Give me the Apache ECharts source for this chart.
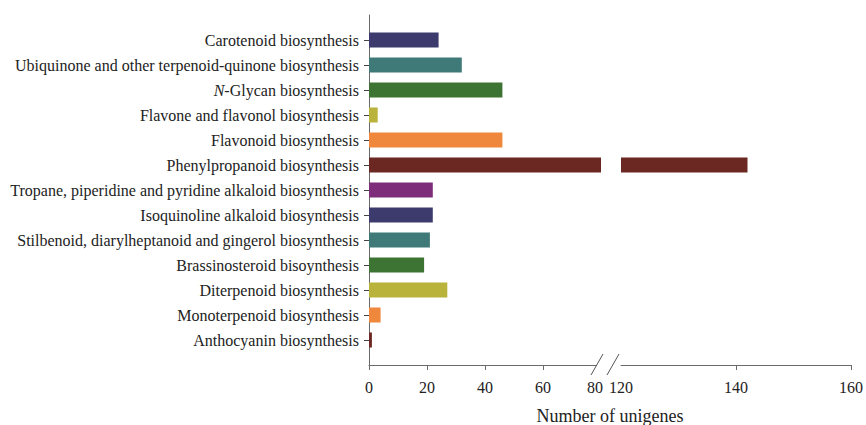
<!DOCTYPE html>
<html>
<head>
<meta charset="utf-8">
<script src="https://cdn.jsdelivr.net/npm/echarts@6/dist/echarts.min.js"></script>
<style>
  html, body { margin: 0; padding: 0; background: #fff; }
  #chart { width: 866px; height: 425px; }
</style>
</head>
<body>
<div id="chart"></div>
<script>
// pathways, top to bottom
const pathways = [
  "Carotenoid biosynthesis",
  "Ubiquinone and other terpenoid-quinone biosynthesis",
  "N-Glycan biosynthesis",
  "Flavone and flavonol biosynthesis",
  "Flavonoid biosynthesis",
  "Phenylpropanoid biosynthesis",
  "Tropane, piperidine and pyridine alkaloid biosynthesis",
  "Isoquinoline alkaloid biosynthesis",
  "Stilbenoid, diarylheptanoid and gingerol biosynthesis",
  "Brassinosteroid bisoynthesis",
  "Diterpenoid biosynthesis",
  "Monoterpenoid biosynthesis",
  "Anthocyanin biosynthesis",
];
const unigenes = [24, 32, 46, 3, 46, 142, 22, 22, 21, 19, 27, 4, 1];
const barColors = [
  "#3d3b6d", "#3f7a78", "#3e7433", "#b9b33b", "#ef873d", "#6b2722", "#7d2d79",
  "#3d3b6d", "#3f7a78", "#3e7433", "#b9b33b", "#ef873d", "#6b2722",
];
const lowTicks = [0, 20, 40, 60, 80];
const highTicks = [120, 140, 160];

const SERIF = "'Liberation Serif', 'Times New Roman', serif";
const chart = echarts.init(document.getElementById("chart"), null, { renderer: "svg" });

// blank slot at each end so the y axis line runs past the first and last bar
const cats = ["", ...pathways, ""];
const pad = (arr) => [null, ...arr, null];
const isReal = (i) => i > 0 && i < cats.length - 1;

const barData = (minShown) => pad(unigenes.map((v, i) => (v > minShown ? {
  value: v,
  itemStyle: { color: barColors[i] },
} : null)));

const axisLineStyle = { show: true, lineStyle: { color: "#6a6a6a", width: 1 } };
const xTick = { show: true, length: 5, lineStyle: { color: "#6a6a6a" } };

const grids = [
  { left: 369, right: 265, top: 15, bottom: 60 },
  { left: 621, right: 13, top: 15, bottom: 60 },
];

const option = {
  animation: false,
  backgroundColor: "#fff",
  grid: grids,
  yAxis: [
    {
      type: "category",
      gridIndex: 0,
      data: cats,
      inverse: true,
      boundaryGap: false,
      axisLine: axisLineStyle,
      axisTick: { show: true, length: 5, interval: (i) => isReal(i), lineStyle: { color: "#444" } },
      axisLabel: {
        interval: (i) => isReal(i),
        margin: 10,
        fontFamily: SERIF,
        fontSize: 16,
        color: "#222",
        formatter: (v) => (v.startsWith("N-") ? "{i|N}-" + v.slice(2) : v),
        rich: { i: { fontStyle: "italic", fontFamily: SERIF, fontSize: 16, color: "#222" } },
      },
    },
    {
      type: "category",
      gridIndex: 1,
      data: cats,
      inverse: true,
      boundaryGap: false,
      show: false,
    },
  ],
  xAxis: [
    {
      type: "value",
      gridIndex: 0,
      min: lowTicks[0],
      max: lowTicks[lowTicks.length - 1],
      interval: lowTicks[1] - lowTicks[0],
      splitLine: { show: false },
      axisLine: axisLineStyle,
      axisTick: xTick,
      axisLabel: {
        margin: 14,
        fontFamily: SERIF,
        fontSize: 16,
        color: "#222",
        formatter: (v) => (v === 80 ? "{s|80}" : String(v)),
        rich: { s: { fontFamily: SERIF, fontSize: 16, color: "#222", padding: [0, 12, 0, 0] } },
      },
    },
    {
      type: "value",
      gridIndex: 1,
      min: highTicks[0],
      max: highTicks[highTicks.length - 1],
      interval: highTicks[1] - highTicks[0],
      splitLine: { show: false },
      axisLine: axisLineStyle,
      axisTick: xTick,
      axisLabel: { margin: 14, fontFamily: SERIF, fontSize: 16, color: "#222" },
    },
  ],
  series: [
    {
      type: "bar",
      xAxisIndex: 0,
      yAxisIndex: 0,
      barWidth: 15,
      clip: true,
      data: barData(0),
    },
    {
      type: "bar",
      xAxisIndex: 1,
      yAxisIndex: 1,
      barWidth: 15,
      clip: true,
      data: barData(highTicks[0]),
    },
  ],
};

chart.setOption(option);

// axis break marks and the shared axis title
const x80 = chart.convertToPixel({ xAxisIndex: 0 }, lowTicks[lowTicks.length - 1]);
const x120 = chart.convertToPixel({ xAxisIndex: 1 }, highTicks[0]);
const axisY = 425 - grids[0].bottom;
const slash = (cx) => ({
  type: "line",
  shape: { x1: cx - 6, y1: axisY + 10, x2: cx + 6, y2: axisY - 11 },
  style: { stroke: "#555", lineWidth: 1 },
  z: 10,
});
chart.setOption({
  graphic: [
    // hide the axis ends under the break marks
    { type: "rect", shape: { x: x80 - 4, y: axisY - 2, width: 7, height: 9 }, style: { fill: "#fff" }, z: 9 },
    { type: "rect", shape: { x: x120 - 2, y: axisY + 1, width: 3, height: 6 }, style: { fill: "#fff" }, z: 9 },
    slash(x80 - 4),
    slash(x120 - 8),
    {
      type: "text",
      x: (chart.convertToPixel({ xAxisIndex: 0 }, 0) + chart.convertToPixel({ xAxisIndex: 1 }, 160)) / 2,
      y: 416,
      style: {
        text: "Number of unigenes",
        fontFamily: SERIF,
        fontSize: 18,
        fill: "#222",
        align: "center",
        verticalAlign: "middle",
      },
    },
  ],
});
</script>
</body>
</html>
